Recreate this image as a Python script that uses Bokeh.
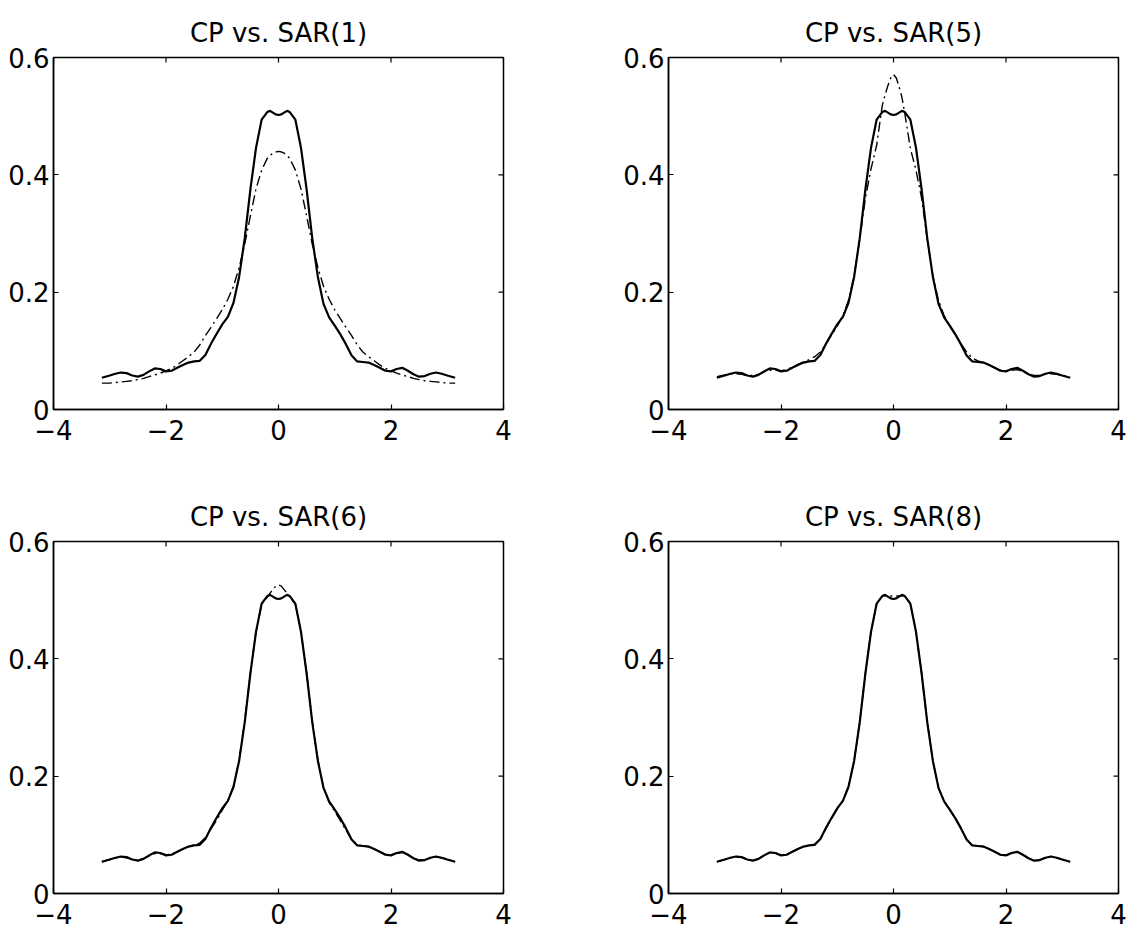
import math
from bokeh.plotting import figure
from bokeh.models import Range1d, FixedTicker
from bokeh.layouts import column, row
from bokeh.embed import file_html
from bokeh.resources import INLINE

# ---------------- data ----------------
x_freq = [-3.14, -3.0, -2.9, -2.8, -2.7, -2.6, -2.5, -2.4, -2.3, -2.2, -2.1,
          -2.0, -1.9, -1.8, -1.7, -1.6, -1.5, -1.4, -1.3, -1.2, -1.1,
          -1.0, -0.9, -0.8, -0.7, -0.6, -0.5, -0.4, -0.3, -0.2, -0.15, -0.1, -0.05,
          0.0,
          0.05, 0.1, 0.15, 0.2, 0.3, 0.4, 0.5, 0.6, 0.7, 0.8, 0.9, 1.0,
          1.1, 1.2, 1.3, 1.4, 1.5, 1.6, 1.7, 1.8, 1.9, 2.0,
          2.1, 2.2, 2.3, 2.4, 2.5, 2.6, 2.7, 2.8, 2.9, 3.0, 3.14]

cp = [0.054, 0.058, 0.061, 0.063, 0.062, 0.058, 0.056, 0.059, 0.065, 0.070, 0.069,
      0.065, 0.066, 0.071, 0.076, 0.080, 0.082, 0.083, 0.093, 0.112, 0.129,
      0.145, 0.158, 0.182, 0.226, 0.292, 0.375, 0.446, 0.494, 0.507, 0.509, 0.506, 0.503,
      0.502,
      0.503, 0.506, 0.509, 0.507, 0.494, 0.446, 0.375, 0.292, 0.226, 0.180, 0.157, 0.143,
      0.128, 0.111, 0.092, 0.082, 0.081, 0.080, 0.076, 0.071, 0.066, 0.065,
      0.069, 0.071, 0.066, 0.060, 0.056, 0.057, 0.061, 0.063, 0.061, 0.058, 0.054]

sar1 = [0.045, 0.045, 0.046, 0.047, 0.048, 0.049, 0.051, 0.053, 0.056, 0.059, 0.062,
        0.066, 0.070, 0.076, 0.083, 0.090, 0.098, 0.110, 0.126, 0.140, 0.155,
        0.170, 0.188, 0.210, 0.242, 0.282, 0.330, 0.376, 0.408, 0.428, 0.433, 0.437, 0.439,
        0.440,
        0.439, 0.437, 0.433, 0.428, 0.408, 0.376, 0.330, 0.282, 0.242, 0.210, 0.188, 0.170,
        0.155, 0.140, 0.126, 0.110, 0.098, 0.090, 0.083, 0.076, 0.070, 0.066,
        0.062, 0.059, 0.056, 0.053, 0.051, 0.049, 0.048, 0.047, 0.046, 0.045, 0.045]

sar5 = [0.056, 0.059, 0.061, 0.061, 0.060, 0.058, 0.058, 0.060, 0.064, 0.067, 0.067,
        0.066, 0.068, 0.072, 0.077, 0.081, 0.085, 0.090, 0.098, 0.112, 0.127,
        0.142, 0.160, 0.186, 0.228, 0.290, 0.360, 0.410, 0.450, 0.518, 0.536, 0.552, 0.565,
        0.571,
        0.565, 0.550, 0.532, 0.505, 0.445, 0.408, 0.360, 0.290, 0.228, 0.186, 0.160, 0.142,
        0.127, 0.112, 0.098, 0.088, 0.083, 0.080, 0.076, 0.071, 0.067, 0.066,
        0.067, 0.068, 0.065, 0.060, 0.058, 0.058, 0.060, 0.061, 0.060, 0.058, 0.055]

sar6 = [0.054, 0.058, 0.060, 0.062, 0.061, 0.058, 0.057, 0.059, 0.064, 0.068, 0.068,
        0.066, 0.067, 0.071, 0.076, 0.080, 0.083, 0.086, 0.095, 0.110, 0.125,
        0.142, 0.158, 0.183, 0.228, 0.294, 0.376, 0.446, 0.493, 0.505, 0.512, 0.518, 0.524,
        0.526,
        0.524, 0.518, 0.512, 0.505, 0.493, 0.446, 0.376, 0.294, 0.228, 0.181, 0.155, 0.140,
        0.124, 0.108, 0.092, 0.083, 0.081, 0.080, 0.076, 0.071, 0.067, 0.066,
        0.068, 0.070, 0.066, 0.060, 0.057, 0.057, 0.060, 0.062, 0.061, 0.058, 0.054]

sar8 = [0.054, 0.058, 0.061, 0.063, 0.062, 0.058, 0.056, 0.059, 0.065, 0.070, 0.069,
        0.065, 0.066, 0.071, 0.076, 0.080, 0.082, 0.084, 0.093, 0.111, 0.128,
        0.145, 0.158, 0.182, 0.226, 0.292, 0.375, 0.446, 0.494, 0.507, 0.508, 0.507, 0.507,
        0.507,
        0.507, 0.507, 0.508, 0.507, 0.494, 0.446, 0.375, 0.292, 0.226, 0.180, 0.157, 0.143,
        0.128, 0.111, 0.092, 0.082, 0.081, 0.080, 0.076, 0.071, 0.066, 0.065,
        0.069, 0.071, 0.066, 0.060, 0.056, 0.057, 0.061, 0.063, 0.061, 0.058, 0.054]

titles = ["CP vs. SAR(1)", "CP vs. SAR(5)", "CP vs. SAR(6)", "CP vs. SAR(8)"]
x_ticks = [-4, -2, 0, 2, 4]
x_tick_labels = ["\u22124", "\u22122", "0", "2", "4"]
y_ticks = [0, 0.2, 0.4, 0.6]
y_tick_labels = ["0", "0.2", "0.4", "0.6"]
x_lim = (-4, 4)
y_lim = (0, 0.6)

FONT = "DejaVu Sans"
FS = "26px"


def style_axis(ax, ticks, labels, standoff):
    ax.ticker = FixedTicker(ticks=ticks)
    ax.major_label_overrides = dict(zip(ticks, labels))
    ax.minor_tick_line_color = None
    ax.major_tick_in = 5
    ax.major_tick_out = 0
    ax.major_tick_line_color = "black"
    ax.major_tick_line_width = 1.2
    ax.axis_line_color = "black"
    ax.axis_line_width = 1.5
    ax.major_label_text_color = "black"
    ax.major_label_text_font = FONT
    ax.major_label_text_font_size = FS
    ax.major_label_standoff = standoff


def make_panel(title, sar, left, right, top, bottom):
    p = figure(frame_width=450, frame_height=352,
               x_range=Range1d(*x_lim), y_range=Range1d(*y_lim),
               output_backend="svg", toolbar_location=None,
               min_border_left=left, min_border_right=right,
               min_border_top=top, min_border_bottom=bottom,
               background_fill_color="white", border_fill_color="white",
               outline_line_color="black", outline_line_width=1.5)
    p.grid.visible = False
    style_axis(p.xaxis[0], x_ticks, x_tick_labels, 10)
    style_axis(p.yaxis[0], y_ticks, y_tick_labels, 4)

    # inward ticks on the top and right edges of the box (clipped to the frame)
    p.scatter(x_ticks, [y_lim[1]] * len(x_ticks), marker="dash", size=10,
              angle=math.pi / 2, line_color="black", line_width=1.2)
    p.scatter([x_lim[1]] * len(y_ticks), y_ticks, marker="dash", size=10,
              line_color="black", line_width=1.2)

    p.title.text = title
    p.title.align = "center"
    p.title.text_font = FONT
    p.title.text_font_size = FS
    p.title.text_font_style = "normal"
    p.title.text_color = "black"
    p.title.standoff = 4
    p.title.padding = 8

    p.line(x_freq, sar, line_color="black", line_width=1.4, line_dash="10 4 2 4")
    p.line(x_freq, cp, line_color="black", line_width=2.2)
    return p


p1 = make_panel(titles[0], sar1, 53, 112, 57, 75)
p2 = make_panel(titles[1], sar5, 53, 13, 57, 75)
p3 = make_panel(titles[2], sar6, 53, 112, 57, 44)
p4 = make_panel(titles[3], sar8, 53, 13, 57, 44)

layout = column(row(p1, p2, spacing=0), row(p3, p4, spacing=0), spacing=0)

open("out.html", "w").write(file_html(layout, INLINE))
